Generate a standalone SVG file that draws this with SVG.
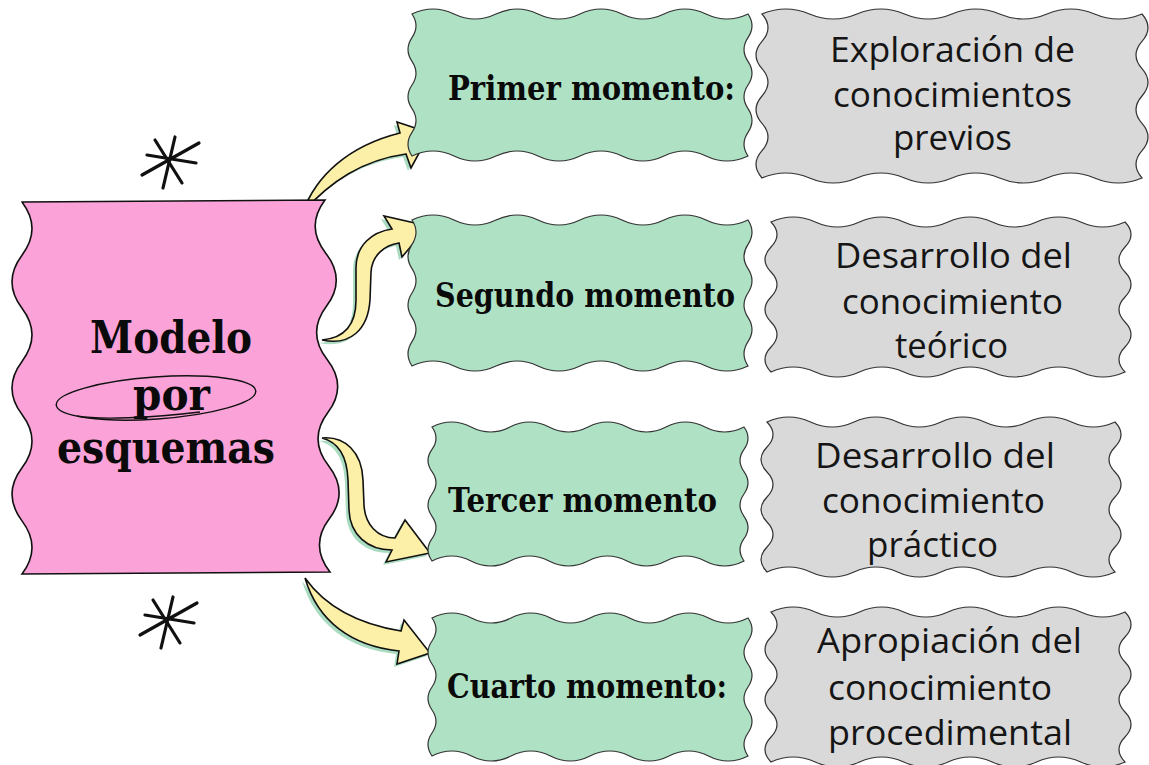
<svg xmlns="http://www.w3.org/2000/svg" width="1149" height="765" viewBox="0 0 1149 765">
<style>
.pink{fill:#fba3d8;stroke:#111;stroke-width:1.6}
.green{fill:#afe2c5;stroke:#333;stroke-width:1.2}
.gray{fill:#d9d9d9;stroke:#333;stroke-width:1.2}
.arrow{fill:#fcf0a8;stroke:#111;stroke-width:1.6;stroke-linejoin:miter}
.shadow{fill:#a9dcc0;stroke:none}
.lbl{font-family:"DejaVu Serif","Liberation Serif",serif;font-weight:bold;font-size:33px;fill:#0a0a0a;text-anchor:middle}
.main{font-family:"DejaVu Serif","Liberation Serif",serif;font-weight:bold;font-size:45px;fill:#0a0a0a;text-anchor:middle}
.desc{font-family:"Open Sans","Noto Sans","Liberation Sans",sans-serif;font-size:35px;fill:#151515;text-anchor:middle}
.star{stroke:#111;stroke-width:3.2;stroke-linecap:round;fill:none}
</style>
<rect width="1149" height="765" fill="#ffffff"/>

<g id="connectors">
  <g transform="translate(-3,3)">
    <path class="shadow" d="M303 212 C316 176 348 146 400 133 L397 122 L430 133 L411 168 L406 154 C362 160 330 182 303 212 Z"/>
    <path class="shadow" d="M322 340 C345 338 356 325 356 300 L356 268 C356 245 372 232 392 229 L384 216 L428 226 L402 257 L399 243 C385 245 372 255 371 272 L370 300 C368 330 350 346 322 340 Z"/>
    <path class="shadow" d="M322 438 C345 436 362 452 363 480 L364 505 C365 525 378 538 395 538 L405 520 L430 553 L386 562 L392 550 C368 550 350 535 349 510 L348 480 C347 455 338 442 322 438 Z"/>
    <path class="shadow" d="M305 578 C325 606 358 624 401 631 L404 620 L430 653 L397 664 L399 651 C352 646 318 622 305 578 Z"/>
  </g>
  <path class="arrow" d="M303 212 C316 176 348 146 400 133 L397 122 L430 133 L411 168 L406 154 C362 160 330 182 303 212 Z"/>
  <path class="arrow" d="M322 340 C345 338 356 325 356 300 L356 268 C356 245 372 232 392 229 L384 216 L428 226 L402 257 L399 243 C385 245 372 255 371 272 L370 300 C368 330 350 346 322 340 Z"/>
  <path class="arrow" d="M322 438 C345 436 362 452 363 480 L364 505 C365 525 378 538 395 538 L405 520 L430 553 L386 562 L392 550 C368 550 350 535 349 510 L348 480 C347 455 338 442 322 438 Z"/>
  <path class="arrow" d="M305 578 C325 606 358 624 401 631 L404 620 L430 653 L397 664 L399 651 C352 646 318 622 305 578 Z"/>
</g>

<g id="decor">
  <g class="star">
    <line x1="155" y1="140" x2="182" y2="183"/>
    <line x1="175" y1="137" x2="163" y2="188"/>
    <line x1="147" y1="155" x2="196" y2="163"/>
    <line x1="142" y1="175" x2="199" y2="143"/>
  </g>
  <g class="star" transform="translate(-2,460)">
    <line x1="155" y1="140" x2="182" y2="183"/>
    <line x1="175" y1="137" x2="163" y2="188"/>
    <line x1="147" y1="155" x2="196" y2="163"/>
    <line x1="142" y1="175" x2="199" y2="143"/>
  </g>
</g>

<g id="node-main">
  <path class="pink" d="M22 202 L325 200 q-20 26.57 0.714 53.14 t0.714 53.14 t0.714 53.14 t0.714 53.14 t0.714 53.14 t0.714 53.14 t0.714 53.14 L22 574 q20 -26.57 0 -53.14 t0 -53.14 t0 -53.14 t0 -53.14 t0 -53.14 t0 -53.14 t0 -53.14 Z"/>
  <text class="main" x="171" y="353" textLength="162" lengthAdjust="spacingAndGlyphs">Modelo</text>
  <text class="main" x="171.5" y="410" textLength="77" lengthAdjust="spacingAndGlyphs">por</text>
  <text class="main" x="166" y="463" textLength="218" lengthAdjust="spacingAndGlyphs">esquemas</text>
  <ellipse cx="156" cy="398" rx="100" ry="21" transform="rotate(-4 156 398)" fill="none" stroke="#111" stroke-width="1.5"/>
  <path d="M77 416 C100 420 150 418 200 412" fill="none" stroke="#111" stroke-width="1.3"/>
</g>

<g id="node-m1">
  <path class="green" d="M412 14 q21 -10 42 0 t42 0 t42 0 t42 0 t42 0 t42 0 t42 0 t42 0 q8 11.833 0 23.667 t0 23.667 t0 23.667 t0 23.667 t0 23.667 t0 23.667 q-21 10 -42 0 t-42 0 t-42 0 t-42 0 t-42 0 t-42 0 t-42 0 t-42 0 q-8 -11.833 0 -23.667 t0 -23.667 t0 -23.667 t0 -23.667 t0 -23.667 t0 -23.667 Z"/>
  <text class="lbl" x="591.5" y="100" textLength="287" lengthAdjust="spacingAndGlyphs">Primer momento:</text>
</g>
<g id="node-m2">
  <path class="green" d="M412 220 q21 -10 42 0 t42 0 t42 0 t42 0 t42 0 t42 0 t42 0 t42 0 q8 12.167 0 24.333 t0 24.333 t0 24.333 t0 24.333 t0 24.333 t0 24.333 q-21 10 -42 0 t-42 0 t-42 0 t-42 0 t-42 0 t-42 0 t-42 0 t-42 0 q-8 -12.167 0 -24.333 t0 -24.333 t0 -24.333 t0 -24.333 t0 -24.333 t0 -24.333 Z"/>
  <text class="lbl" x="585" y="307" textLength="300" lengthAdjust="spacingAndGlyphs">Segundo momento</text>
</g>
<g id="node-m3">
  <path class="green" d="M432 427 q19.5 -10 39 0 t39 0 t39 0 t39 0 t39 0 t39 0 t39 0 t39 0 q8 11.167 0 22.333 t0 22.333 t0 22.333 t0 22.333 t0 22.333 t0 22.333 q-19.5 10 -39 0 t-39 0 t-39 0 t-39 0 t-39 0 t-39 0 t-39 0 t-39 0 q-8 -11.167 0 -22.333 t0 -22.333 t0 -22.333 t0 -22.333 t0 -22.333 t0 -22.333 Z"/>
  <text class="lbl" x="582.5" y="512" textLength="269" lengthAdjust="spacingAndGlyphs">Tercer momento</text>
</g>
<g id="node-m4">
  <path class="green" d="M432 618 q19.75 -10 39.5 0 t39.5 0 t39.5 0 t39.5 0 t39.5 0 t39.5 0 t39.5 0 t39.5 0 q8 11.5 0 23 t0 23 t0 23 t0 23 t0 23 t0 23 q-19.75 10 -39.5 0 t-39.5 0 t-39.5 0 t-39.5 0 t-39.5 0 t-39.5 0 t-39.5 0 t-39.5 0 q-8 -11.5 0 -23 t0 -23 t0 -23 t0 -23 t0 -23 t0 -23 Z"/>
  <text class="lbl" x="587" y="698" textLength="280" lengthAdjust="spacingAndGlyphs">Cuarto momento:</text>
</g>

<g id="node-d1">
  <path class="gray" d="M762 14 q23.75 -10 47.5 0 t47.5 0 t47.5 0 t47.5 0 t47.5 0 t47.5 0 t47.5 0 t47.5 0 q12 13.667 0 27.333 t0 27.333 t0 27.333 t0 27.333 t0 27.333 t0 27.333 q-23.75 10 -47.5 0 t-47.5 0 t-47.5 0 t-47.5 0 t-47.5 0 t-47.5 0 t-47.5 0 t-47.5 0 q-12 -13.667 0 -27.333 t0 -27.333 t0 -27.333 t0 -27.333 t0 -27.333 t0 -27.333 Z"/>
  <text class="desc" x="952.5" y="62" textLength="245" lengthAdjust="spacingAndGlyphs">Exploración de</text>
  <text class="desc" x="952.5" y="107" textLength="239" lengthAdjust="spacingAndGlyphs">conocimientos</text>
  <text class="desc" x="952.5" y="150" textLength="119" lengthAdjust="spacingAndGlyphs">previos</text>
</g>
<g id="node-d2">
  <path class="gray" d="M771 222 q22.125 -10 44.25 0 t44.25 0 t44.25 0 t44.25 0 t44.25 0 t44.25 0 t44.25 0 t44.25 0 q12 12.5 0 25 t0 25 t0 25 t0 25 t0 25 t0 25 q-22.125 10 -44.25 0 t-44.25 0 t-44.25 0 t-44.25 0 t-44.25 0 t-44.25 0 t-44.25 0 t-44.25 0 q-12 -12.5 0 -25 t0 -25 t0 -25 t0 -25 t0 -25 t0 -25 Z"/>
  <text class="desc" x="953.5" y="268" textLength="237" lengthAdjust="spacingAndGlyphs">Desarrollo del</text>
  <text class="desc" x="952.5" y="314" textLength="221" lengthAdjust="spacingAndGlyphs">conocimiento</text>
  <text class="desc" x="951.5" y="358" textLength="113" lengthAdjust="spacingAndGlyphs">teórico</text>
</g>
<g id="node-d3">
  <path class="gray" d="M767 422 q21.75 -10 43.5 0 t43.5 0 t43.5 0 t43.5 0 t43.5 0 t43.5 0 t43.5 0 t43.5 0 q12 12.5 0 25 t0 25 t0 25 t0 25 t0 25 t0 25 q-21.75 10 -43.5 0 t-43.5 0 t-43.5 0 t-43.5 0 t-43.5 0 t-43.5 0 t-43.5 0 t-43.5 0 q-12 -12.5 0 -25 t0 -25 t0 -25 t0 -25 t0 -25 t0 -25 Z"/>
  <text class="desc" x="935" y="468" textLength="240" lengthAdjust="spacingAndGlyphs">Desarrollo del</text>
  <text class="desc" x="933.5" y="513" textLength="223" lengthAdjust="spacingAndGlyphs">conocimiento</text>
  <text class="desc" x="932.5" y="557" textLength="131" lengthAdjust="spacingAndGlyphs">práctico</text>
</g>
<g id="node-d4">
  <path class="gray" d="M771 612 q22.125 -10 44.25 0 t44.25 0 t44.25 0 t44.25 0 t44.25 0 t44.25 0 t44.25 0 t44.25 0 q12 12.5 0 25 t0 25 t0 25 t0 25 t0 25 t0 25 q-22.125 10 -44.25 0 t-44.25 0 t-44.25 0 t-44.25 0 t-44.25 0 t-44.25 0 t-44.25 0 t-44.25 0 q-12 -12.5 0 -25 t0 -25 t0 -25 t0 -25 t0 -25 t0 -25 Z"/>
  <text class="desc" x="949.5" y="653" textLength="265" lengthAdjust="spacingAndGlyphs">Apropiación del</text>
  <text class="desc" x="940" y="700" textLength="224" lengthAdjust="spacingAndGlyphs">conocimiento</text>
  <text class="desc" x="950" y="745" textLength="244" lengthAdjust="spacingAndGlyphs">procedimental</text>
</g>
</svg>
